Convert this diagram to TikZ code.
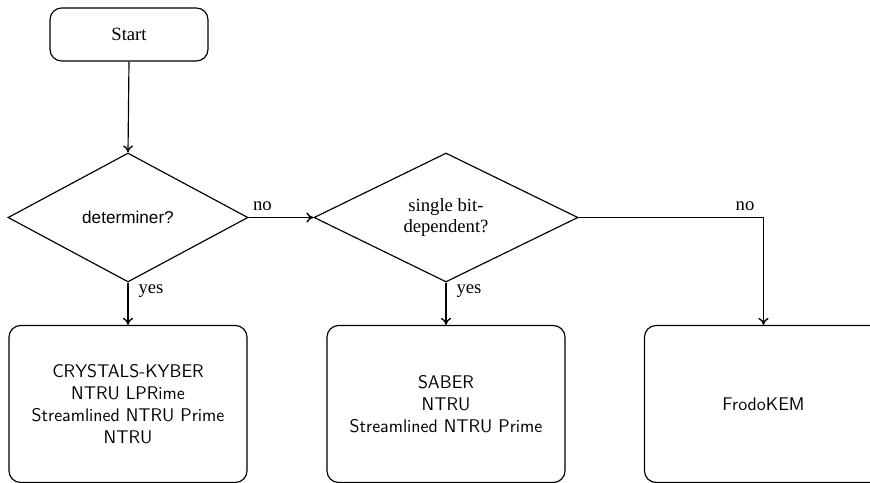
\documentclass[tikz,border=0pt]{standalone}
\usepackage{fontspec}
\setmainfont{Liberation Serif}
\newfontfamily\arialfont{Liberation Sans}
\usetikzlibrary{shapes.geometric,arrows.meta}
\tikzset{
  every picture/.style={line width=0.7pt},
  startbox/.style={draw, rounded corners=7pt, minimum width=94.8pt, minimum height=31.8pt, font=\fontsize{11.2}{13}\selectfont},
  decision/.style={draw, diamond, inner sep=0pt, aspect=1.86},
  resultbox/.style={draw, rounded corners=7pt, minimum width=142.8pt, minimum height=94.2pt, align=center, font=\sffamily\fontsize{11}{13.2}\selectfont},
  lbl/.style={inner sep=0pt, font=\fontsize{11.2}{13}\selectfont},
  flow/.style={-{To[length=4.2pt,width=6pt,line width=0.8pt]}},
}
\begin{document}
\begin{tikzpicture}[x=0.6pt,y=-0.6pt]
\useasboundingbox (0,0) rectangle (870,483);
\node[startbox] (start) at (129,34.5) {Start};
\node[decision, minimum width=144pt, minimum height=77.4pt, font=\arialfont\fontsize{10.3}{12}\selectfont] (d1) at (128,217.5) {determiner?};
\node[decision, minimum width=158.4pt, minimum height=77.4pt, align=center, font=\fontsize{11.2}{12.6}\selectfont] (d2) at (446,217.5) {single bit-\\dependent?};
\node[resultbox] (b1) at (128,404) {CRYSTALS-KYBER\\NTRU LPRime\\Streamlined NTRU Prime\\NTRU};
\node[resultbox] (b2) at (446,404) {SABER\\NTRU\\Streamlined NTRU Prime};
\node[resultbox] (b3) at (763.5,404) {FrodoKEM};
\draw[flow] (start.south) -- (d1.north);
\draw[flow] (d1.east) -- node[lbl, pos=0, anchor=base west, xshift=2.4pt, yshift=4.2pt] {no} (d2.west);
\draw[flow] (d1.south) -- node[lbl, pos=0, anchor=base west, xshift=6pt, yshift=-6.6pt] {yes} (b1.north);
\draw[flow] (d2.south) -- node[lbl, pos=0, anchor=base west, xshift=6pt, yshift=-6.6pt] {yes} (b2.north);
\draw[flow] (d2.east) -| node[lbl, pos=0.45, anchor=base, yshift=4.2pt] {no} (b3.north);
\end{tikzpicture}
\end{document}
